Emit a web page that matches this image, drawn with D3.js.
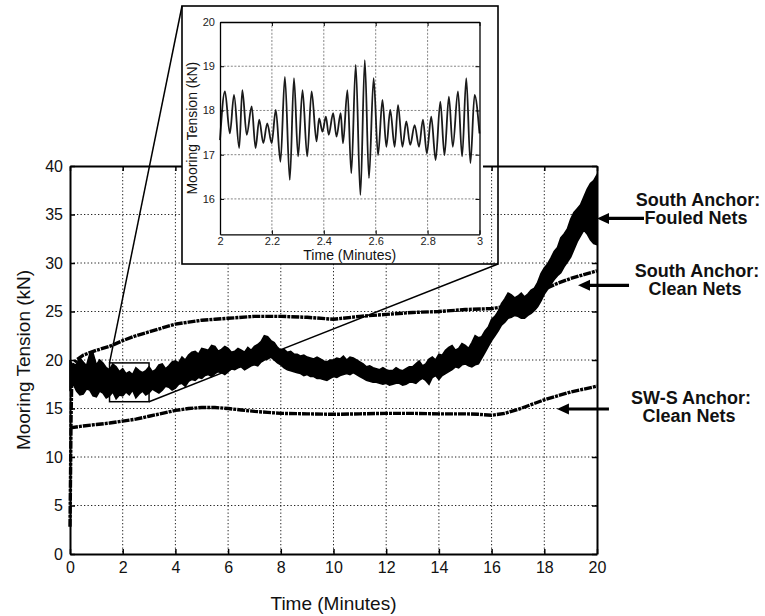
<!DOCTYPE html>
<html>
<head>
<meta charset="utf-8">
<script src="https://cdn.jsdelivr.net/npm/d3@7"></script>
<style>
  html, body { margin: 0; padding: 0; background: #fff; }
  svg { display: block; font-family: "Liberation Sans", Arial, Helvetica, sans-serif; }
</style>
</head>
<body>
<svg id="chart" width="765" height="616"></svg>
<script>
// ---------- data ----------
const xTickValues = [0, 2, 4, 6, 8, 10, 12, 14, 16, 18, 20];
const yTickValues = [0, 5, 10, 15, 20, 25, 30, 35, 40];
const insetXTicks = [2, 2.2, 2.4, 2.6, 2.8, 3];
const insetYTicks = [16, 17, 18, 19, 20];

// South anchor, fouled nets: upper / lower envelope of the fast oscillation,
// sampled every 1/8 minute (one row per minute)
const fouledHigh = [
  20.0, 19.3, 19.6, 20.2, 19.8, 19.4, 20.6, 20.7,
  19.5, 20.0, 19.7, 19.2, 19.0, 19.6, 19.3, 18.8,
  19.1, 18.6, 18.8, 18.5, 19.2, 18.9, 18.7, 18.9,
  19.3, 18.8, 19.0, 19.5, 19.6, 19.1, 19.4, 19.8,
  19.9, 19.7, 20.3, 20.0, 20.5, 20.8, 20.9, 20.6,
  21.2, 21.1, 21.0, 21.5, 21.4, 20.9, 21.1, 21.4,
  21.2, 20.8, 20.9, 21.2, 21.0, 20.8, 21.3, 21.0,
  21.4, 21.6, 21.9, 22.5, 22.4, 22.0, 21.8, 21.3,
  21.0, 21.1, 20.8, 20.9, 20.6, 20.6, 20.4, 20.5,
  20.3, 20.2, 20.1, 20.3, 20.1, 19.9, 19.8, 20.0,
  20.0, 20.2, 20.1, 20.4, 20.0, 20.3, 20.2, 20.0,
  19.8, 19.6, 19.3, 19.4, 19.2, 19.1, 19.0, 19.2,
  19.0, 18.9, 18.9, 19.2, 19.0, 18.9, 19.1, 19.3,
  19.3, 19.6, 19.9, 19.4, 19.6, 20.1, 20.3, 20.0,
  20.6, 20.5, 21.0, 21.3, 21.5, 21.0, 21.2, 21.7,
  21.5, 21.2, 21.8, 22.5, 22.3, 22.4, 23.0, 23.4,
  24.2, 24.5, 25.0, 25.8, 26.3, 26.9, 26.7, 26.4,
  26.6, 26.9, 26.5, 26.8, 27.2, 27.4, 28.0, 28.9,
  29.5, 29.9, 30.5, 31.2, 31.6, 32.6, 33.0, 33.5,
  34.5, 35.2, 35.6, 36.0, 36.8, 37.6, 38.2, 38.5,
  39.1
];
const fouledLow = [
  17.0, 17.5, 16.8, 16.4, 16.5, 17.0, 16.9, 16.3,
  16.2, 16.8, 16.6, 16.1, 16.3, 16.7, 16.0, 16.4,
  16.3, 16.7, 16.4, 16.9, 16.1, 16.5, 16.8, 16.4,
  16.6, 17.0, 16.8, 16.6, 16.9, 17.3, 17.2, 16.9,
  17.1, 17.5, 17.6, 17.3, 17.8, 18.0, 17.9, 18.2,
  18.1, 18.4, 18.5, 18.3, 18.6, 18.8, 18.7, 18.5,
  18.8, 19.1, 19.0, 19.2, 19.3, 19.0, 19.2, 19.4,
  19.5, 19.4, 19.8, 20.0, 20.1, 20.3, 20.0, 19.7,
  19.5, 19.2, 19.0, 18.9, 18.8, 18.7, 18.6, 18.4,
  18.5, 18.3, 18.3, 18.1, 18.1, 18.0, 17.9, 18.1,
  18.3, 18.2, 18.4, 18.5, 18.6, 18.5, 18.7, 18.5,
  18.3, 18.1, 17.9, 17.8, 17.7, 17.7, 17.6, 17.5,
  17.6, 17.4, 17.5, 17.6, 17.6, 17.4, 17.5, 17.7,
  17.7, 17.6, 17.9, 18.1, 17.9, 17.5, 18.2, 18.4,
  18.0, 18.4, 18.6, 18.8, 19.0, 19.3, 19.2, 19.5,
  19.6, 19.4, 19.3, 19.5, 19.6, 20.2, 20.8, 21.4,
  22.0, 22.5, 23.0, 23.6, 23.9, 24.3, 24.4, 24.6,
  24.5, 24.3, 24.3, 24.6, 24.8, 25.1, 25.5, 26.1,
  26.8, 27.3, 27.8, 28.3, 28.7, 29.0, 29.6, 30.1,
  30.6, 31.4, 32.2, 32.8, 33.4, 33.0, 32.4, 32.0,
  31.9
];
const fouledTime = fouledHigh.map((_, i) => i / 8);

// South anchor, clean nets
const southCleanTime = [0, 0.02, 0.04, 0.07, 0.1, 0.25, 0.5, 1, 1.5, 2, 2.5, 3, 3.5, 4, 4.5, 5, 5.5, 6,
  7, 8, 9, 10, 11, 12, 13, 14, 15, 16, 16.5, 17, 17.5, 18, 18.5, 19, 19.5, 20];
const southCleanValue = [2.8, 8, 14, 18.5, 19.4, 20.0, 20.5, 21.0, 21.4, 22.0, 22.5, 22.9, 23.3, 23.7, 23.9, 24.1, 24.2, 24.3,
  24.5, 24.5, 24.4, 24.2, 24.5, 24.7, 24.9, 25.0, 25.2, 25.3, 25.5, 26.0, 26.7, 27.3, 27.9, 28.4, 28.8, 29.2];

// SW-S anchor, clean nets
const swsCleanTime = [0, 0.5, 1, 1.5, 2, 2.5, 3, 3.5, 4, 4.5, 5, 5.5, 6, 6.5, 7, 7.5, 8, 9,
  10, 11, 12, 13, 14, 15, 15.5, 16, 16.5, 17, 17.5, 18, 18.5, 19, 19.5, 20];
const swsCleanValue = [13.0, 13.2, 13.35, 13.5, 13.7, 13.9, 14.2, 14.5, 14.8, 15.0, 15.1, 15.1, 15.0, 14.85, 14.7, 14.6, 14.5, 14.45,
  14.4, 14.45, 14.5, 14.5, 14.45, 14.45, 14.4, 14.3, 14.5, 14.9, 15.4, 15.9, 16.3, 16.7, 17.0, 17.3];

// Detail of the fouled-net record between 2 and 3 minutes (successive peaks and troughs)
const insetTime = [
  2.000, 2.019, 2.038, 2.054, 2.074, 2.086, 2.103, 2.122, 2.137, 2.151,
  2.167, 2.182, 2.199, 2.215, 2.233, 2.250, 2.269, 2.285, 2.301, 2.318,
  2.336, 2.353, 2.372, 2.382, 2.395, 2.408, 2.419, 2.436, 2.449, 2.465,
  2.474, 2.491, 2.506, 2.523, 2.541, 2.558, 2.574, 2.592, 2.609, 2.626,
  2.641, 2.656, 2.673, 2.686, 2.703, 2.718, 2.733, 2.750, 2.767, 2.782,
  2.797, 2.814, 2.831, 2.849, 2.865, 2.882, 2.897, 2.917, 2.933, 2.949,
  2.965, 2.981, 3.000
];
const insetValue = [
  17.33, 18.43, 17.48, 18.35, 17.15, 18.46, 17.45, 18.09, 17.15, 17.79,
  17.26, 17.71, 17.26, 18.01, 16.84, 18.76, 16.43, 18.73, 16.96, 18.46,
  16.96, 18.43, 17.30, 17.82, 17.52, 17.86, 17.45, 17.94, 17.41, 17.94,
  17.26, 18.46, 16.58, 19.03, 16.09, 19.14, 16.47, 18.73, 16.99, 18.24,
  17.18, 18.01, 17.18, 18.12, 17.18, 17.75, 17.22, 17.67, 17.18, 17.79,
  17.03, 17.86, 16.88, 18.20, 16.99, 18.31, 17.18, 18.43, 16.96, 18.73,
  16.81, 18.35, 17.48
];

// Magnified window (minutes, kN) and the inset's vertical range
const zoomTime = [1.5, 3.0];
const zoomTension = [15.7, 19.7];
const insetTensionRange = [15.2, 20];

// Series call-outs: label lines and the (time, kN) point each arrow touches
const calloutLines = [["South Anchor:", "Fouled Nets"], ["South Anchor:", "Clean Nets"], ["SW-S Anchor:", "Clean Nets"]];
const calloutTime = [20, 19.28, 18.48];
const calloutTension = [34.6, 27.7, 14.95];

// ---------- layout ----------
const svg = d3.select("#chart");
const M = { left: 70, right: 597, top: 166, bottom: 554 };
const x = d3.scaleLinear().domain([0, 20]).range([M.left, M.right]);
const y = d3.scaleLinear().domain([0, 40]).range([M.bottom, M.top]);

const gMain = svg.append("g");

// dotted grid
gMain.append("g").selectAll("line").data(xTickValues.slice(1, -1)).join("line")
  .attr("x1", d => x(d)).attr("x2", d => x(d))
  .attr("y1", M.top).attr("y2", M.bottom)
  .attr("stroke", "#222").attr("stroke-width", 1).attr("stroke-dasharray", "1.3,2.2");
gMain.append("g").selectAll("line").data(yTickValues.slice(1, -1)).join("line")
  .attr("y1", d => y(d)).attr("y2", d => y(d))
  .attr("x1", M.left).attr("x2", M.right)
  .attr("stroke", "#222").attr("stroke-width", 1).attr("stroke-dasharray", "1.3,2.2");

// series
const lineGen = d3.line().x(d => x(d[0])).y(d => y(d[1]));
const swsData = swsCleanTime.map((t, i) => [t, swsCleanValue[i]]);
const southData = southCleanTime.map((t, i) => [t, southCleanValue[i]]);

[swsData, southData].forEach(data => {
  gMain.append("path").datum(data).attr("d", lineGen)
    .attr("fill", "none").attr("stroke", "#000").attr("stroke-width", 3.4)
    .attr("stroke-dasharray", "8,1,3,1");
});

const fouledData = fouledTime.map((t, i) => ({ t, hi: fouledHigh[i], lo: fouledLow[i] }));
const area = d3.area().x(d => x(d.t)).y0(d => y(d.lo)).y1(d => y(d.hi));
gMain.append("path").datum(fouledData).attr("d", area)
  .attr("fill", "#000").attr("stroke", "#000").attr("stroke-width", 1.6).attr("stroke-linejoin", "miter");

// axes (inward ticks on all four sides)
const tickFont = g => g.selectAll("text").attr("font-size", 16).attr("fill", "#111")
  .attr("font-family", "'Liberation Sans', Arial, sans-serif");
const axisStyle = g => {
  g.select(".domain").attr("stroke", "#000").attr("stroke-width", 2);
  g.selectAll(".tick line").attr("stroke", "#000").attr("stroke-width", 1.5);
};
gMain.append("g").attr("transform", `translate(0,${M.bottom})`)
  .call(d3.axisBottom(x).tickValues(xTickValues).tickFormat(d3.format("d")).tickSize(-5).tickSizeOuter(0).tickPadding(8))
  .call(axisStyle).call(tickFont);
gMain.append("g").attr("transform", `translate(${M.left},0)`)
  .call(d3.axisLeft(y).tickValues(yTickValues).tickFormat(d3.format("d")).tickSize(-5).tickSizeOuter(0).tickPadding(7))
  .call(axisStyle).call(tickFont);
gMain.append("g").attr("transform", `translate(0,${M.top})`)
  .call(d3.axisTop(x).tickValues(xTickValues).tickFormat("").tickSize(-5).tickSizeOuter(0))
  .call(axisStyle);
gMain.append("g").attr("transform", `translate(${M.right},0)`)
  .call(d3.axisRight(y).tickValues(yTickValues).tickFormat("").tickSize(-5).tickSizeOuter(0))
  .call(axisStyle);

// axis titles
svg.append("text").attr("x", (M.left + M.right) / 2).attr("y", 610)
  .attr("text-anchor", "middle").attr("font-size", 19).attr("fill", "#111")
  .text("Time (Minutes)");
svg.append("text").attr("transform", `translate(30,${(M.top + M.bottom) / 2}) rotate(-90)`)
  .attr("text-anchor", "middle").attr("font-size", 19).attr("fill", "#111")
  .text("Mooring Tension (kN)");

// ---------- inset ----------
const box = { left: 182, right: 498, top: 6, bottom: 264, fillRight: 483 };
const I = { left: 220, right: 479.5, top: 22, bottom: 234.3 };
const ix = d3.scaleLinear().domain([2, 3]).range([I.left, I.right]);
const iy = d3.scaleLinear().domain(insetTensionRange).range([I.bottom, I.top]);

const gIn = svg.append("g");
gIn.append("rect").attr("x", box.left).attr("y", box.top)
  .attr("width", box.fillRight - box.left).attr("height", box.bottom - box.top).attr("fill", "#fff");
gIn.append("rect").attr("x", box.left).attr("y", box.top)
  .attr("width", box.right - box.left).attr("height", box.bottom - box.top)
  .attr("fill", "none").attr("stroke", "#000").attr("stroke-width", 1.6);

gIn.append("g").selectAll("line").data(insetXTicks.slice(1, -1)).join("line")
  .attr("x1", d => ix(d)).attr("x2", d => ix(d)).attr("y1", I.top).attr("y2", I.bottom)
  .attr("stroke", "#777").attr("stroke-width", 0.9).attr("stroke-dasharray", "2,1.6");
gIn.append("g").selectAll("line").data(insetYTicks.filter(v => v < 20)).join("line")
  .attr("y1", d => iy(d)).attr("y2", d => iy(d)).attr("x1", I.left).attr("x2", I.right)
  .attr("stroke", "#777").attr("stroke-width", 0.9).attr("stroke-dasharray", "2,1.6");

const insetData = insetTime.map((t, i) => [t, insetValue[i]]);
gIn.append("path").datum(insetData)
  .attr("d", d3.line().x(d => ix(d[0])).y(d => iy(d[1])).curve(d3.curveMonotoneX))
  .attr("fill", "none").attr("stroke", "#1a1a1a").attr("stroke-width", 1.8).attr("stroke-linejoin", "round");

const insetFont = g => g.selectAll("text").attr("font-size", 11).attr("fill", "#222")
  .attr("font-family", "'Liberation Sans', Arial, sans-serif");
const insetAxisStyle = g => {
  g.select(".domain").attr("stroke", "#000").attr("stroke-width", 1.3);
  g.selectAll(".tick line").attr("stroke", "#000").attr("stroke-width", 1);
};
gIn.append("g").attr("transform", `translate(0,${I.bottom})`)
  .call(d3.axisBottom(ix).tickValues(insetXTicks).tickFormat(d3.format("~g")).tickSize(-4).tickSizeOuter(0).tickPadding(3))
  .call(insetAxisStyle).call(insetFont);
gIn.append("g").attr("transform", `translate(${I.left},0)`)
  .call(d3.axisLeft(iy).tickValues(insetYTicks).tickFormat(d3.format("d")).tickSize(-4).tickSizeOuter(0).tickPadding(5))
  .call(insetAxisStyle).call(insetFont);
gIn.append("g").attr("transform", `translate(0,${I.top})`)
  .call(d3.axisTop(ix).tickValues(insetXTicks).tickFormat("").tickSize(-4).tickSizeOuter(0))
  .call(insetAxisStyle);
gIn.append("g").attr("transform", `translate(${I.right},0)`)
  .call(d3.axisRight(iy).tickValues(insetYTicks).tickFormat("").tickSize(-4).tickSizeOuter(0))
  .call(insetAxisStyle);

gIn.append("text").attr("x", (I.left + I.right) / 2).attr("y", 260)
  .attr("text-anchor", "middle").attr("font-size", 14).attr("fill", "#111").text("Time (Minutes)");
gIn.append("text").attr("transform", `translate(197,${(I.top + I.bottom) / 2}) rotate(-90)`)
  .attr("text-anchor", "middle").attr("font-size", 14).attr("fill", "#111").text("Mooring Tension (kN)");

// ---------- magnified window and leader lines ----------
const zx0 = x(zoomTime[0]), zx1 = x(zoomTime[1]);
const zy0 = y(zoomTension[1]), zy1 = y(zoomTension[0]);
const gZoom = svg.append("g").attr("stroke", "#000").attr("fill", "none").attr("stroke-width", 1.5);
gZoom.append("rect").attr("x", zx0).attr("y", zy0).attr("width", zx1 - zx0).attr("height", zy1 - zy0);
gZoom.append("line").attr("x1", zx0).attr("y1", zy0).attr("x2", box.left).attr("y2", box.top);
gZoom.append("line").attr("x1", zx1).attr("y1", zy1).attr("x2", box.right).attr("y2", box.bottom);

// ---------- call-outs ----------
const arrowLen = [47, 51, 52];
const textX = [698, 697, 691];
const textY = [205.5, 277, 404];
const gCall = svg.append("g");
calloutLines.forEach((lines, i) => {
  const tx = x(calloutTime[i]), ty = y(calloutTension[i]);
  gCall.append("line").attr("x1", tx + 8).attr("y1", ty).attr("x2", tx + arrowLen[i]).attr("y2", ty)
    .attr("stroke", "#000").attr("stroke-width", 3.2);
  gCall.append("path").attr("d", `M${tx},${ty} L${tx + 12},${ty - 5.5} L${tx + 12},${ty + 5.5} Z`).attr("fill", "#000");
  lines.forEach((s, j) => {
    gCall.append("text").attr("x", textX[i] - j * 2).attr("y", textY[i] + j * 18.3)
      .attr("text-anchor", "middle").attr("font-size", 18).attr("font-weight", "bold").attr("fill", "#111")
      .text(s);
  });
});
</script>
</body>
</html>
